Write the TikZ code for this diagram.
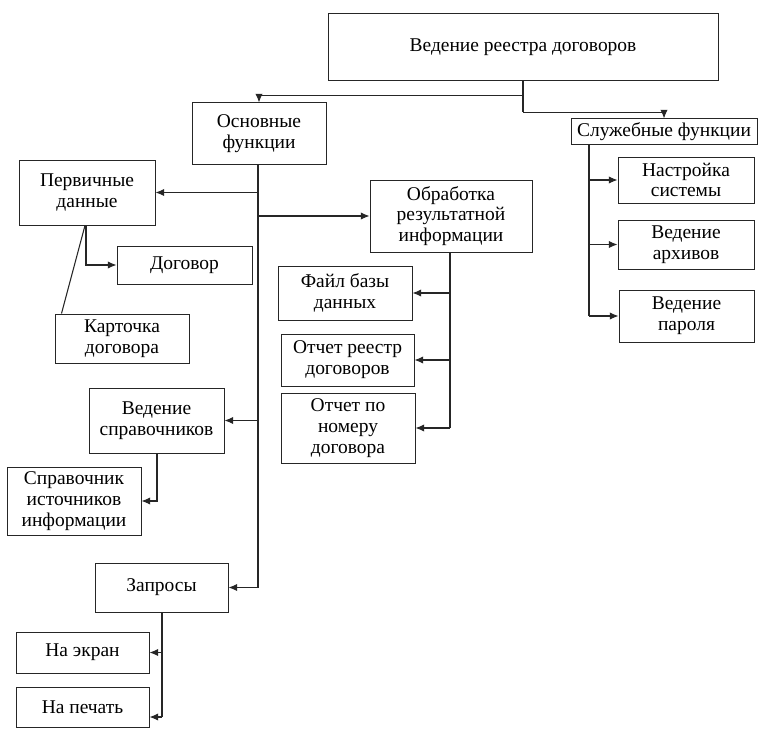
\documentclass[tikz,border=0pt]{standalone}
\usepackage{fontspec}
\setmainfont{Liberation Serif}
\usetikzlibrary{arrows.meta,calc}
\begin{document}
\begin{tikzpicture}[x=0.75pt,y=-0.75pt,
  box/.style={draw=black!85,line width=0.75pt,inner sep=0pt,align=center,
    font=\fontsize{14.6}{15.6}\selectfont},
  conn/.style={draw=black!85,line width=0.8pt},
  arr/.style={conn,-{Latex[length=6.5pt,width=5.5pt]}}]
\useasboundingbox (0,0) rectangle (766,738);
% boxes
\node[box,minimum width=292.5pt,minimum height=50.25pt] (top) at (523,47.5) {Ведение реестра договоров};
\node[box,minimum width=100.5pt,minimum height=45.75pt] (osn) at (259,133.5) {Основные\\функции};
\node[box,minimum width=139.5pt,minimum height=18.75pt] (sluzh) at (664,131.5) {Служебные функции};
\node[box,minimum width=102pt,minimum height=48.75pt] (perv) at (87,192.5) {Первичные\\данные};
\node[box,minimum width=101.25pt,minimum height=28.5pt] (dog) at (184.5,265) {Договор};
\node[box,minimum width=100.5pt,minimum height=36.75pt] (kart) at (122,338.5) {Карточка\\договора};
\node[box,minimum width=121.5pt,minimum height=54pt] (obr) at (451,216) {Обработка\\результатной\\информации};
\node[box,minimum width=100.5pt,minimum height=40.5pt] (fail) at (345,293) {Файл базы\\данных};
\node[box,minimum width=99.75pt,minimum height=39pt] (otcha) at (347.5,360) {Отчет реестр\\договоров};
\node[box,minimum width=100.5pt,minimum height=52.5pt] (otchb) at (348,428) {Отчет по\\номеру\\договора};
\node[box,minimum width=101.25pt,minimum height=48.75pt] (vedspr) at (156.5,420.5) {Ведение\\справочников};
\node[box,minimum width=100.5pt,minimum height=51pt] (sprav) at (74,501) {Справочник\\источников\\информации};
\node[box,minimum width=99.75pt,minimum height=36.75pt] (zapr) at (161.5,587.5) {Запросы};
\node[box,minimum width=99.75pt,minimum height=30.75pt] (ekran) at (82.5,652.5) {На экран};
\node[box,minimum width=99.75pt,minimum height=30pt] (pech) at (82.5,707) {На печать};
\node[box,minimum width=102pt,minimum height=34.5pt] (nastr) at (686,180) {Настройка\\системы};
\node[box,minimum width=102pt,minimum height=36.75pt] (arch) at (686,244.5) {Ведение\\архивов};
\node[box,minimum width=101.25pt,minimum height=39pt] (parol) at (686.5,316) {Ведение\\пароля};
% top connectors
\coordinate (j1) at ($(top.south)+(0,14)$);
\coordinate (j2) at ($(top.south)+(0,31)$);
\draw[conn] (top.south) -- (j2);
\draw[arr] (j1) -| (osn.north);
\draw[arr] (j2) -| (sluzh.north);
% main trunk
\coordinate (m0) at ($(osn.south)+(-1,0)$);
\draw[conn] (m0) -- (m0 |- zapr.east);
\draw[arr] (m0 |- perv.east) -- (perv.east);
\draw[arr] (m0 |- obr.west) -- (obr.west);
\draw[arr] (m0 |- vedspr.east) -- (vedspr.east);
\draw[arr] (m0 |- zapr.east) -- (zapr.east);
% primary data
\coordinate (p0) at (86,0);
\draw[arr] (p0 |- perv.south) |- (dog.west);
\draw[conn] ($(p0 |- perv.south)+(-1,0)$) -- ($(kart.north west)+(7,0)$);
% processing
\coordinate (o0) at ($(obr.south)+(-1,0)$);
\draw[conn] (o0) -- (o0 |- otchb.east);
\draw[arr] (o0 |- fail.east) -- (fail.east);
\draw[arr] (o0 |- otcha.east) -- (otcha.east);
\draw[arr] (o0 |- otchb.east) -- (otchb.east);
% references
\coordinate (v0) at (157,0);
\draw[arr] (v0 |- vedspr.south) |- (sprav.east);
% queries
\coordinate (q0) at ($(zapr.south)+(0.5,0)$);
\coordinate (qe) at ($(pech.east)+(0,10)$);
\draw[conn] (q0) -- (q0 |- qe);
\draw[arr] (q0 |- ekran.east) -- (ekran.east);
\draw[arr] (q0 |- qe) -- (qe);
% service functions
\coordinate (s0) at (589,0);
\draw[conn] (s0 |- sluzh.south) -- (s0 |- parol.west);
\draw[arr] (s0 |- nastr.west) -- (nastr.west);
\draw[arr] (s0 |- arch.west) -- (arch.west);
\draw[arr] (s0 |- parol.west) -- (parol.west);
\end{tikzpicture}
\end{document}
